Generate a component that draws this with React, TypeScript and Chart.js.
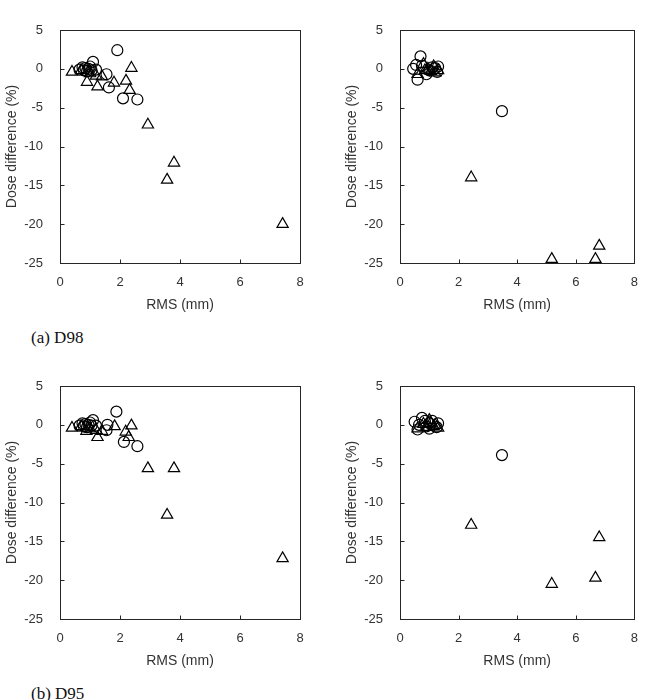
import React, { useEffect, useRef } from "react";
import { Chart, registerables } from "chart.js";

Chart.register(...registerables);

type Pair = [number, number];

// Axis ranges
const xRange = { min: 0, max: 8, step: 2 };
const yRange = { min: -25, max: 5, step: 5 };

const xTitle = "RMS (mm)";
const yTitle = "Dose difference (%)";

// D98 – left panel
const d98LeftCircles: Pair[] = [
  [0.65, -0.1], [0.75, 0.2], [0.85, 0.1], [0.9, -0.3], [1.0, 0.3], [1.05, -0.2],
  [1.1, 0.9], [0.95, 0.0], [1.2, -0.1], [0.8, -0.2], [1.55, -0.7], [1.63, -2.4],
  [1.91, 2.4], [2.1, -3.8], [2.58, -3.95],
];
const d98LeftTriangles: Pair[] = [
  [0.4, -0.4], [0.7, -0.2], [0.9, -1.7], [1.0, -0.6], [1.25, -2.3], [1.2, -0.9],
  [1.4, -1.0], [1.8, -1.8], [2.2, -1.55], [2.32, -2.75], [2.38, 0.1], [2.93, -7.2],
  [3.57, -14.3], [3.8, -12.1], [7.42, -20.0],
];

// D98 – right panel
const d98RightCircles: Pair[] = [
  [0.45, 0.0], [0.6, -1.4], [0.7, 1.6], [0.9, -0.7], [0.75, 0.4], [1.0, -0.2],
  [1.2, 0.1], [1.27, -0.4], [1.1, 0.2], [1.3, 0.3], [0.55, 0.5], [3.48, -5.45],
];
const d98RightTriangles: Pair[] = [
  [0.6, -0.7], [0.8, 0.6], [0.95, 0.0], [1.05, -0.3], [1.15, 0.3], [1.3, -0.2],
  [0.85, -0.2], [1.2, -0.5], [2.43, -14.0], [5.18, -24.5], [6.67, -24.5], [6.8, -22.8],
];

// D95 – left panel
const d95LeftCircles: Pair[] = [
  [0.65, -0.1], [0.75, 0.2], [0.85, 0.1], [0.9, -0.3], [1.0, 0.3], [1.05, -0.1],
  [1.1, 0.6], [0.95, 0.0], [1.2, -0.1], [0.8, -0.2], [1.58, 0.0], [1.55, -0.7],
  [1.88, 1.7], [2.13, -2.2], [2.58, -2.75],
];
const d95LeftTriangles: Pair[] = [
  [0.4, -0.4], [0.7, -0.2], [0.88, -0.8], [1.0, -0.5], [1.25, -1.6], [1.2, -0.7],
  [1.4, -0.8], [1.82, -0.2], [2.19, -0.9], [2.29, -1.6], [2.38, -0.1], [2.93, -5.6],
  [3.57, -11.6], [3.8, -5.6], [7.42, -17.2],
];

// D95 – right panel
const d95RightCircles: Pair[] = [
  [0.5, 0.4], [0.75, 0.9], [0.6, -0.6], [1.0, 0.2], [1.3, 0.2], [1.25, -0.3],
  [0.9, -0.2], [0.65, 0.0], [1.1, 0.5], [0.85, 0.5], [1.0, -0.5], [3.48, -3.9],
];
const d95RightTriangles: Pair[] = [
  [0.6, -0.5], [1.0, 0.6], [1.15, -0.2], [1.3, -0.4], [0.8, 0.1], [0.9, -0.3],
  [1.05, 0.2], [1.2, 0.0], [2.43, -12.9], [5.18, -20.5], [6.67, -19.7], [6.8, -14.5],
];

const FONT = "'Liberation Sans', Arial, sans-serif";
const TEXT = "#333333";
const LINE = "#262626";

// Box around the plot area plus short inward tick marks
const framePlugin = {
  id: "frame",
  beforeDatasetsDraw(chart: any) {
    const { ctx, chartArea: a, scales } = chart;
    ctx.save();
    ctx.strokeStyle = LINE;
    ctx.lineWidth = 1;
    const l = Math.round(a.left) + 0.5;
    const t = Math.round(a.top) + 0.5;
    const r = Math.round(a.right) + 0.5;
    const b = Math.round(a.bottom) + 0.5;
    ctx.strokeRect(l, t, r - l, b - t);
    ctx.beginPath();
    scales.x.ticks.forEach((tk: any) => {
      const px = Math.round(scales.x.getPixelForValue(tk.value)) + 0.5;
      ctx.moveTo(px, b);
      ctx.lineTo(px, b - 4);
    });
    scales.y.ticks.forEach((tk: any) => {
      const py = Math.round(scales.y.getPixelForValue(tk.value)) + 0.5;
      ctx.moveTo(l, py);
      ctx.lineTo(l + 4, py);
    });
    ctx.stroke();
    ctx.restore();
  },
};

const toPoints = (arr: Pair[]) => arr.map(([x, y]) => ({ x, y }));

function Panel({
  circles,
  triangles,
  left,
  top,
  width,
}: {
  circles: Pair[];
  triangles: Pair[];
  left: number;
  top: number;
  width: number;
}) {
  const ref = useRef<HTMLCanvasElement>(null);

  useEffect(() => {
    if (!ref.current) return;
    const marker = {
      backgroundColor: "rgba(0,0,0,0)",
      borderColor: "#000",
      borderWidth: 1.2,
      clip: false as any,
    };
    const chart = new Chart(ref.current, {
      type: "scatter",
      data: {
        datasets: [
          { label: "circle", data: toPoints(circles), pointStyle: "circle", pointRadius: 5.5, ...marker },
          { label: "triangle", data: toPoints(triangles), pointStyle: "triangle", pointRadius: 6.5, ...marker },
        ],
      },
      options: {
        responsive: false,
        animation: false,
        devicePixelRatio: 1,
        layout: { padding: { top: 30, right: width - 300 + 0, left: 0, bottom: 0 } },
        plugins: { legend: { display: false }, tooltip: { enabled: false } },
        scales: {
          x: {
            type: "linear",
            min: xRange.min,
            max: xRange.max,
            grid: { display: false, drawTicks: false },
            border: { display: false },
            ticks: { stepSize: xRange.step, padding: 12, color: TEXT, font: { family: FONT, size: 13 } },
            title: { display: true, text: xTitle, color: TEXT, font: { family: FONT, size: 14 } },
            afterFit: (s: any) => {
              s.height = 55;
            },
          },
          y: {
            type: "linear",
            min: yRange.min,
            max: yRange.max,
            grid: { display: false, drawTicks: false },
            border: { display: false },
            ticks: { stepSize: yRange.step, padding: 17, color: TEXT, font: { family: FONT, size: 13 } },
            title: { display: true, text: yTitle, color: TEXT, font: { family: FONT, size: 14 } },
            afterFit: (s: any) => {
              s.width = 60;
            },
          },
        },
      },
      plugins: [framePlugin],
    });
    return () => chart.destroy();
  }, [circles, triangles, width]);

  return (
    <canvas
      ref={ref}
      width={width}
      height={318}
      style={{ position: "absolute", left, top, width, height: 318 }}
    />
  );
}

const captionStyle: React.CSSProperties = {
  position: "absolute",
  left: 31,
  fontFamily: "'Liberation Serif', 'Times New Roman', serif",
  fontSize: 17,
  lineHeight: "17px",
  color: "#111",
  whiteSpace: "nowrap",
};

export default function App() {
  return (
    <div style={{ position: "absolute", left: 0, top: 0, width: 650, height: 700, background: "#fff", overflow: "hidden" }}>
      <Panel circles={d98LeftCircles} triangles={d98LeftTriangles} left={0} top={0} width={325} />
      <Panel circles={d98RightCircles} triangles={d98RightTriangles} left={340} top={0} width={310} />
      <div style={{ ...captionStyle, top: 329 }}>(a) D98</div>
      <Panel circles={d95LeftCircles} triangles={d95LeftTriangles} left={0} top={356} width={325} />
      <Panel circles={d95RightCircles} triangles={d95RightTriangles} left={340} top={356} width={310} />
      <div style={{ ...captionStyle, top: 685 }}>(b) D95</div>
    </div>
  );
}
